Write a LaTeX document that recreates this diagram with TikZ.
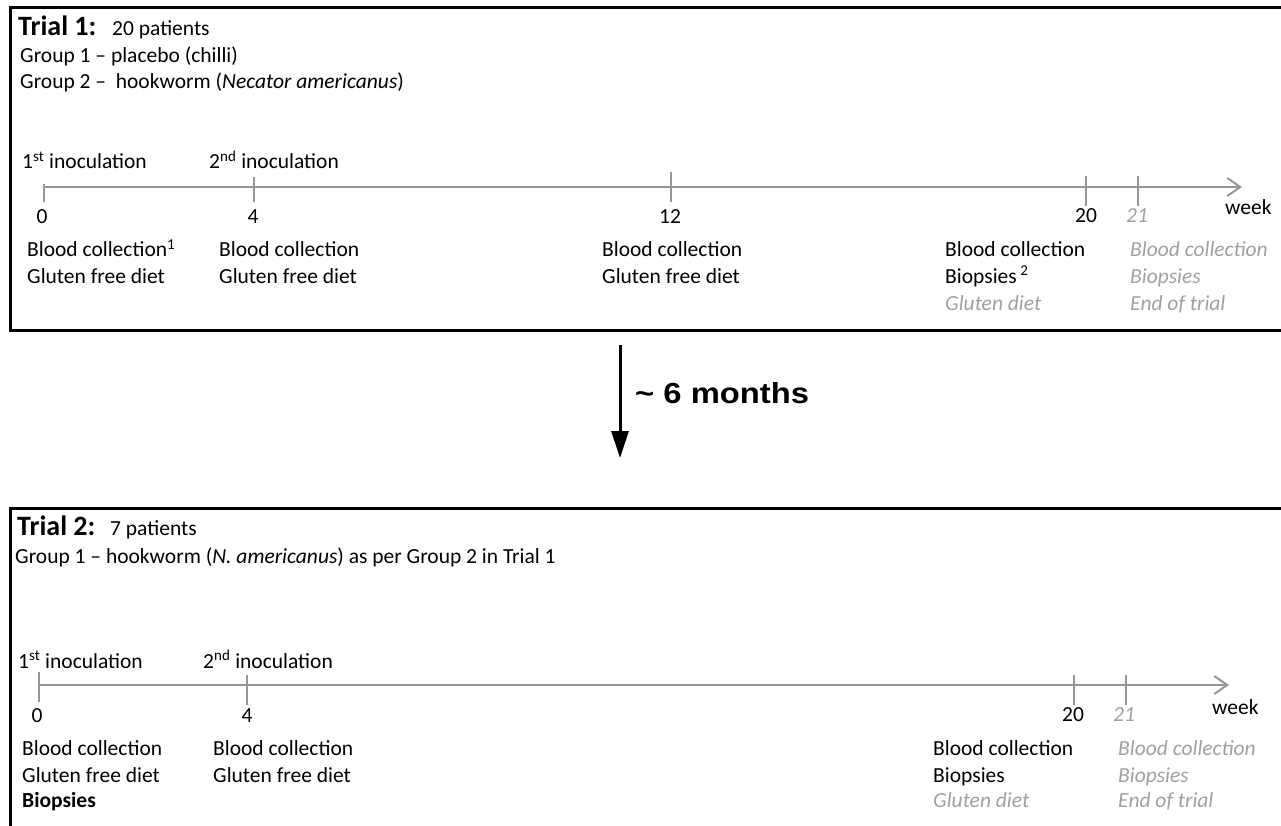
\documentclass[tikz,border=0pt]{standalone}
\usepackage{fontspec}
\setmainfont{Carlito}
\newfontfamily\arialfont{Liberation Sans}
\usetikzlibrary{arrows.meta}
\definecolor{linegray}{RGB}{150,150,150}
\definecolor{txtgray}{RGB}{160,160,160}
\tikzset{
  boxline/.style={line width=3pt, black},
  timeline/.style={line width=2pt, linegray, -{Straight Barb[length=13pt,width=18pt,line width=2pt]}},
  tickline/.style={line width=2pt, linegray},
  lbl/.style={anchor=base west, inner sep=0pt, font=\fontsize{21.5}{26}\selectfont},
  glbl/.style={lbl, text=txtgray, font=\fontsize{21.5}{26}\selectfont\itshape},
  num/.style={anchor=base, inner sep=0pt, font=\fontsize{21.5}{26}\selectfont},
  gnum/.style={num, text=txtgray, font=\fontsize{21.5}{26}\selectfont\itshape},
  ttl/.style={anchor=base west, inner sep=0pt, font=\fontsize{28}{32}\selectfont\bfseries},
  bigarrow/.style={line width=3pt, black, -{Triangle[length=27pt,width=17pt]}}
}
\begin{document}
\begin{tikzpicture}[x=1pt,y=-1pt]
\useasboundingbox (0,0) rectangle (1281,826);
% ---------- Trial 1 box ----------
\coordinate (b1tr) at (1281,8);
\coordinate (b1tl) at (10,8);
\coordinate (b1bl) at (10,330);
\coordinate (b1br) at (1281,330);
\draw[boxline] (b1tr) -- (b1tl) -- (b1bl) -- (b1br);
\node[ttl] (t1title) at (18,36) {Trial 1:};
\node[lbl] (t1pat) at (112,36) {20 patients};
\node[lbl] (t1g1) at (20,63) {Group 1 – placebo (chilli)};
\node[lbl] (t1g2) at (20,89) {Group 2 –\ \ hookworm (\textit{Necator americanus})};
% timeline 1
\coordinate (t1s) at (44,187);
\coordinate (t1e) at (1242,187);
\draw[timeline] (t1s) -- (t1e);
\coordinate (k10a) at (44,184); \coordinate (k10b) at (44,202);
\coordinate (k14a) at (254,177); \coordinate (k14b) at (254,202);
\coordinate (k112a) at (671,172); \coordinate (k112b) at (671,202);
\coordinate (k120a) at (1086,176); \coordinate (k120b) at (1086,206);
\coordinate (k121a) at (1138,176); \coordinate (k121b) at (1138,206);
\draw[tickline] (k10a) -- (k10b);
\draw[tickline] (k14a) -- (k14b);
\draw[tickline] (k112a) -- (k112b);
\draw[tickline] (k120a) -- (k120b);
\draw[tickline] (k121a) -- (k121b);
\node[lbl] (t1in1) at (22,169) {1\textsuperscript{st} inoculation};
\node[lbl] (t1in2) at (209,169) {2\textsuperscript{nd} inoculation};
\node[num] (t1n0) at (42,224) {0};
\node[num] (t1n4) at (253,224) {4};
\node[num] (t1n12) at (670,224) {12};
\node[num] (t1n20) at (1086,223) {20};
\node[gnum] (t1n21) at (1137,223) {21};
\node[lbl] (t1wk) at (1225,215) {week};
\node[lbl] (t1c1a) at (27,257) {Blood collection\textsuperscript{1}};
\node[lbl] (t1c1b) at (27,283) {Gluten free diet};
\node[lbl] (t1c2a) at (219,257) {Blood collection};
\node[lbl] (t1c2b) at (219,283) {Gluten free diet};
\node[lbl] (t1c3a) at (602,257) {Blood collection};
\node[lbl] (t1c3b) at (602,283) {Gluten free diet};
\node[lbl] (t1c4a) at (945,257) {Blood collection};
\node[lbl] (t1c4b) at (945,283) {Biopsies\,\textsuperscript{2}};
\node[glbl] (t1c4c) at (945,310) {Gluten diet};
\node[glbl] (t1c5a) at (1130,257) {Blood collection};
\node[glbl] (t1c5b) at (1130,283) {Biopsies};
\node[glbl] (t1c5c) at (1130,310) {End of trial};
% ---------- arrow ----------
\coordinate (arS) at (620,345);
\coordinate (arE) at (620,458);
\draw[bigarrow] (arS) -- (arE);
\node[anchor=base west, inner sep=0pt, font=\arialfont\bfseries\fontsize{29}{33}\selectfont] (months) at (635,403) {\scalebox{1.13}[1]{\textasciitilde\ 6 months}};
% ---------- Trial 2 box ----------
\coordinate (b2tr) at (1281,508);
\coordinate (b2tl) at (10,508);
\coordinate (b2bl) at (10,826);
\draw[boxline] (b2tr) -- (b2tl) -- (b2bl);
\node[ttl] (t2title) at (17,535) {Trial 2:};
\node[lbl] (t2pat) at (110,535) {7 patients};
\node[lbl] (t2g1) at (15,563) {Group 1 – hookworm (\textit{N. americanus}) as per Group 2 in Trial 1};
% timeline 2
\coordinate (t2s) at (39,685);
\coordinate (t2e) at (1229,685);
\draw[timeline] (t2s) -- (t2e);
\coordinate (k20a) at (39,672); \coordinate (k20b) at (39,702);
\coordinate (k24a) at (247,675); \coordinate (k24b) at (247,705);
\coordinate (k220a) at (1074,675); \coordinate (k220b) at (1074,705);
\coordinate (k221a) at (1126,675); \coordinate (k221b) at (1126,705);
\draw[tickline] (k20a) -- (k20b);
\draw[tickline] (k24a) -- (k24b);
\draw[tickline] (k220a) -- (k220b);
\draw[tickline] (k221a) -- (k221b);
\node[lbl] (t2in1) at (18,668) {1\textsuperscript{st} inoculation};
\node[lbl] (t2in2) at (203,668) {2\textsuperscript{nd} inoculation};
\node[num] (t2n0) at (37,722) {0};
\node[num] (t2n4) at (247,722) {4};
\node[num] (t2n20) at (1073,721) {20};
\node[gnum] (t2n21) at (1124,721) {21};
\node[lbl] (t2wk) at (1212,714) {week};
\node[lbl] (t2c1a) at (22,755) {Blood collection};
\node[lbl] (t2c1b) at (22,782) {Gluten free diet};
\node[lbl] (t2c1c) at (22,807) {\textbf{Biopsies}};
\node[lbl] (t2c2a) at (213,755) {Blood collection};
\node[lbl] (t2c2b) at (213,782) {Gluten free diet};
\node[lbl] (t2c4a) at (933,755) {Blood collection};
\node[lbl] (t2c4b) at (933,782) {Biopsies};
\node[glbl] (t2c4c) at (933,807) {Gluten diet};
\node[glbl] (t2c5a) at (1118,755) {Blood collection};
\node[glbl] (t2c5b) at (1118,782) {Biopsies};
\node[glbl] (t2c5c) at (1118,807) {End of trial};
\end{tikzpicture}
\end{document}
